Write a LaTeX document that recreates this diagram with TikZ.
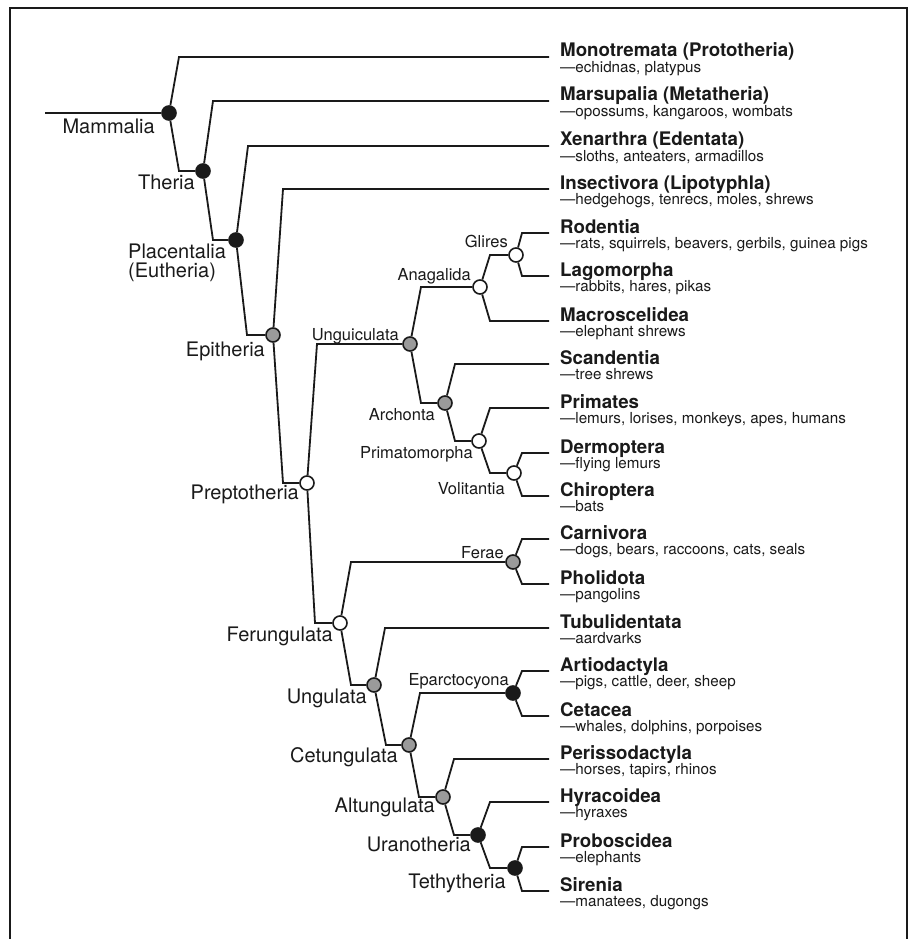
\documentclass[tikz,border=0pt]{standalone}
\usepackage{fontspec}
\setmainfont{TeX Gyre Heros}
\definecolor{ink}{HTML}{1A1A1A}
\definecolor{nodegray}{HTML}{9A9A9A}
\tikzset{
  br/.style={line width=1.8pt, draw=ink, line join=miter},
  nd/.style={circle, minimum size=14pt, inner sep=0pt, draw=ink, line width=1.6pt},
  blk/.style={nd, fill=ink},
  gry/.style={nd, fill=nodegray},
  wht/.style={nd, fill=white},
  biglab/.style={font=\fontsize{20}{22}\selectfont, inner sep=0pt, text=ink, anchor=base east},
  smllab/.style={font=\fontsize{16.5}{18}\selectfont, inner sep=0pt, text=ink, anchor=base east},
  taxname/.style={font=\fontsize{18.7}{20}\selectfont\bfseries, anchor=base west, inner sep=0pt, text=ink},
  taxnote/.style={font=\fontsize{15.2}{17}\selectfont, anchor=base west, inner sep=0pt, text=ink},
  framestyle/.style={line width=2pt, draw=ink}
}
\newcommand\brn[3]{\draw[br] (#1) -- (#2,0 |- #3) -- (#3);}
\newcommand\taxon[4]{%
  \coordinate (e#1) at (549,#2);
  \node[taxname] (t#1) at (560,#2) {#3};
  \node[taxnote] (s#1) at (560,#2+15.5) {#4};}
\begin{document}
\begin{tikzpicture}[x=1pt,y=-1pt]
\useasboundingbox (0,0) rectangle (911,939);
\fill[white] (0,0) rectangle (911,939);
\draw[framestyle] (10,939) -- (10,8) -- (907,8) -- (907,939);

% taxa
\taxon{Mono}{57}{Monotremata (Prototheria)}{—echidnas, platypus}
\taxon{Mars}{101}{Marsupalia (Metatheria)}{—opossums, kangaroos, wombats}
\taxon{Xen}{146}{Xenarthra (Edentata)}{—sloths, anteaters, armadillos}
\taxon{Ins}{189}{Insectivora (Lipotyphla)}{—hedgehogs, tenrecs, moles, shrews}
\taxon{Rod}{233}{Rodentia}{—rats, squirrels, beavers, gerbils, guinea pigs}
\taxon{Lag}{276}{Lagomorpha}{—rabbits, hares, pikas}
\taxon{Mac}{321}{Macroscelidea}{—elephant shrews}
\taxon{Sca}{364}{Scandentia}{—tree shrews}
\taxon{Pri}{408}{Primates}{—lemurs, lorises, monkeys, apes, humans}
\taxon{Der}{453}{Dermoptera}{—flying lemurs}
\taxon{Chi}{496}{Chiroptera}{—bats}
\taxon{Car}{539}{Carnivora}{—dogs, bears, raccoons, cats, seals}
\taxon{Pho}{584}{Pholidota}{—pangolins}
\taxon{Tub}{628}{Tubulidentata}{—aardvarks}
\taxon{Art}{671}{Artiodactyla}{—pigs, cattle, deer, sheep}
\taxon{Cet}{716}{Cetacea}{—whales, dolphins, porpoises}
\taxon{Per}{759}{Perissodactyla}{—horses, tapirs, rhinos}
\taxon{Hyr}{802}{Hyracoidea}{—hyraxes}
\taxon{Pro}{847}{Proboscidea}{—elephants}
\taxon{Sir}{891}{Sirenia}{—manatees, dugongs}

% clade nodes
\coordinate (root) at (45,113);
\node[blk] (mam)  at (169,113) {};
\node[blk] (ther) at (203,171) {};
\node[blk] (plac) at (236,240) {};
\node[gry] (epi)  at (273,335) {};
\node[wht] (prep) at (307,483) {};
\node[gry] (ungu) at (410,344) {};
\node[wht] (anag) at (480,287) {};
\node[wht] (glir) at (516,255) {};
\node[gry] (arch) at (445,403) {};
\node[wht] (prim) at (479,441) {};
\node[wht] (voli) at (514,473) {};
\node[wht] (feru) at (340,623) {};
\node[gry] (fera) at (513,562) {};
\node[gry] (ungl) at (374,685) {};
\node[gry] (cetu) at (409,745) {};
\node[blk] (epar) at (513,693) {};
\node[gry] (altu) at (443,797) {};
\node[blk] (uran) at (478,835) {};
\node[blk] (teth) at (515,868) {};

% branches
\draw[br] (root) -- (mam);
\brn{mam}{179}{eMono}
\brn{mam}{179}{ther}
\brn{ther}{213}{eMars}
\brn{ther}{213}{plac}
\brn{plac}{248}{eXen}
\brn{plac}{247}{epi}
\brn{epi}{283}{eIns}
\brn{epi}{283}{prep}
\brn{prep}{317}{ungu}
\brn{prep}{315}{feru}
\brn{ungu}{421}{anag}
\brn{ungu}{421}{arch}
\brn{anag}{490}{glir}
\brn{anag}{490}{eMac}
\brn{glir}{522}{eRod}
\brn{glir}{522}{eLag}
\brn{arch}{455}{eSca}
\brn{arch}{455}{prim}
\brn{prim}{490}{ePri}
\brn{prim}{490}{voli}
\brn{voli}{522}{eDer}
\brn{voli}{522}{eChi}
\brn{feru}{351}{fera}
\brn{feru}{351}{ungl}
\brn{fera}{522}{eCar}
\brn{fera}{522}{ePho}
\brn{ungl}{385}{eTub}
\brn{ungl}{386}{cetu}
\brn{cetu}{420}{epar}
\brn{cetu}{419}{altu}
\brn{epar}{522}{eArt}
\brn{epar}{522}{eCet}
\brn{altu}{454}{ePer}
\brn{altu}{454}{uran}
\brn{uran}{490}{eHyr}
\brn{uran}{490}{teth}
\brn{teth}{522}{ePro}
\brn{teth}{522}{eSir}

% clade labels (large)
\node[biglab] (lmam)  at (155,133) {Mammalia};
\node[biglab] (lther) at (195,189) {Theria};
\node[biglab, anchor=base west] (lplac)  at (128,258) {Placentalia};
\node[biglab, anchor=base west] (lplac2) at (128,277) {(Eutheria)};
\node[biglab] (lepi)  at (265,356) {Epitheria};
\node[biglab] (lprep) at (299,499) {Preptotheria};
\node[biglab] (lferu) at (333,641) {Ferungulata};
\node[biglab] (lungl) at (367,703) {Ungulata};
\node[biglab] (lcetu) at (398,762) {Cetungulata};
\node[biglab] (laltu) at (435,812) {Altungulata};
\node[biglab] (luran) at (471,851) {Uranotheria};
\node[biglab] (lteth) at (506,888) {Tethytheria};
% clade labels (small)
\node[smllab] (lungu) at (399,340) {Unguiculata};
\node[smllab] (lanag) at (471,280) {Anagalida};
\node[smllab] (lglir) at (508,247) {Glires};
\node[smllab] (larch) at (435,420) {Archonta};
\node[smllab] (lprim) at (473,458) {Primatomorpha};
\node[smllab] (lvoli) at (505,494) {Volitantia};
\node[smllab] (lfera) at (504,558) {Ferae};
\node[smllab] (lepar) at (509,685) {Eparctocyona};
\end{tikzpicture}
\end{document}
